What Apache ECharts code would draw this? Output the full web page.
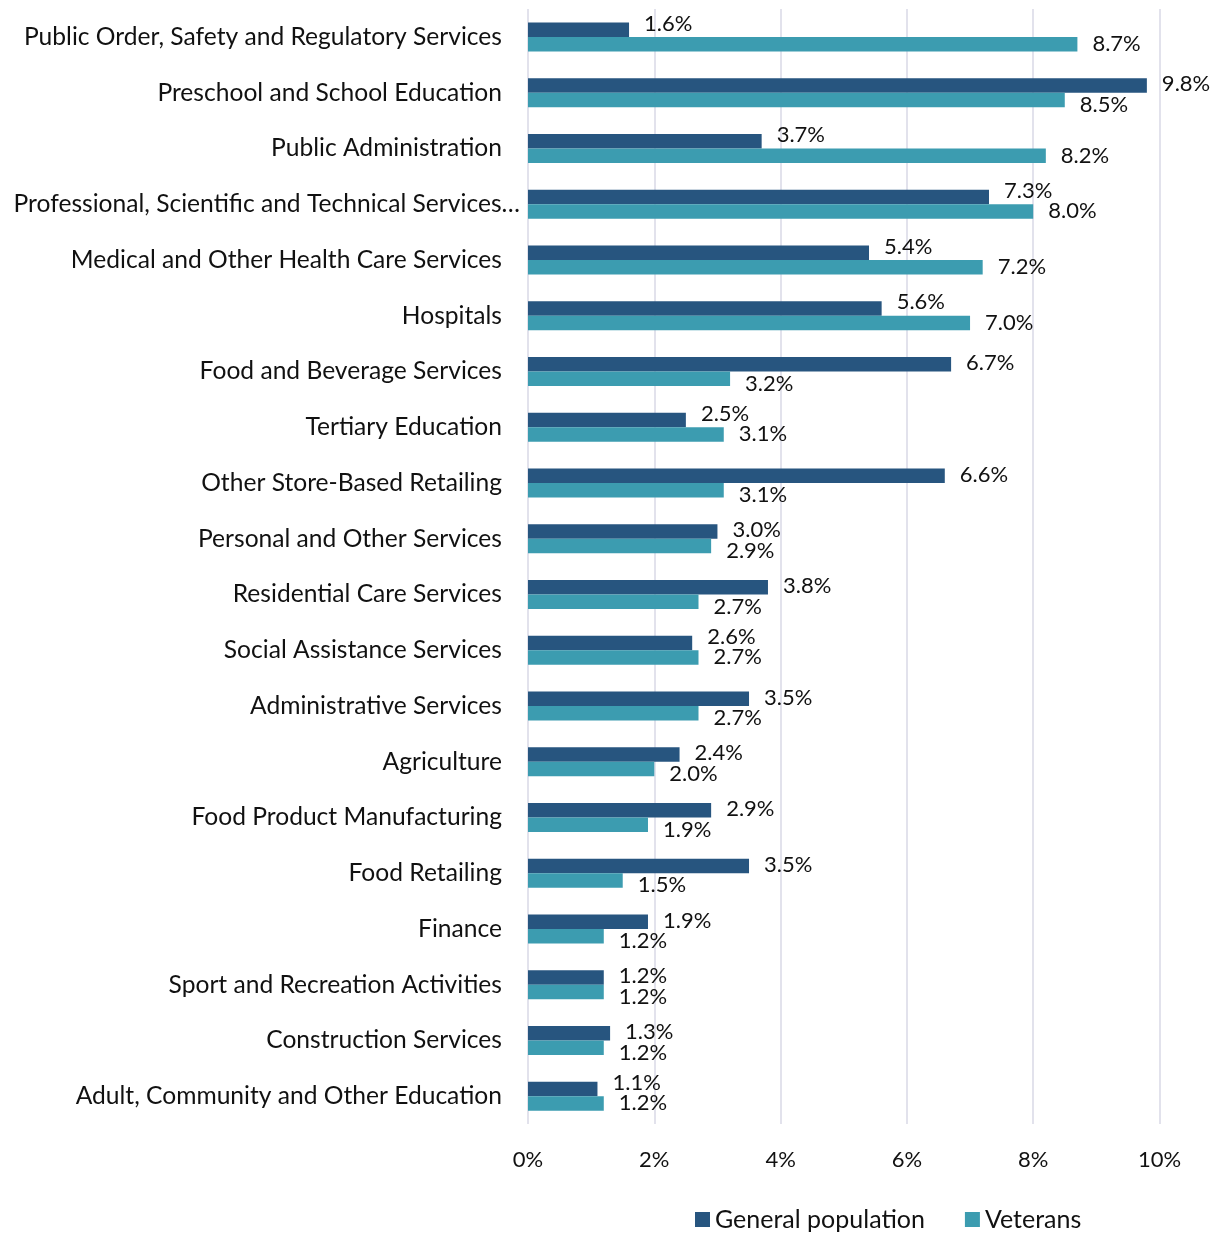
<!DOCTYPE html>
<html>
<head>
<meta charset="utf-8">
<script src="https://cdn.jsdelivr.net/npm/echarts@6/dist/echarts.min.js"></script>
<style>
  html, body { margin: 0; padding: 0; background: #fff; }
  #chart { width: 1222px; height: 1235px; }
</style>
</head>
<body>
<div id="chart"></div>
<script>
// Industry of employment, share of workers (%)
const categories = [
  'Public Order, Safety and Regulatory Services',
  'Preschool and School Education',
  'Public Administration',
  'Professional, Scientific and Technical Services…',
  'Medical and Other Health Care Services',
  'Hospitals',
  'Food and Beverage Services',
  'Tertiary Education',
  'Other Store-Based Retailing',
  'Personal and Other Services',
  'Residential Care Services',
  'Social Assistance Services',
  'Administrative Services',
  'Agriculture',
  'Food Product Manufacturing',
  'Food Retailing',
  'Finance',
  'Sport and Recreation Activities',
  'Construction Services',
  'Adult, Community and Other Education'
];
const generalPopulation = [1.6, 9.8, 3.7, 7.3, 5.4, 5.6, 6.7, 2.5, 6.6, 3.0, 3.8, 2.6, 3.5, 2.4, 2.9, 3.5, 1.9, 1.2, 1.3, 1.1];
const veterans = [8.7, 8.5, 8.2, 8.0, 7.2, 7.0, 3.2, 3.1, 3.1, 2.9, 2.7, 2.7, 2.7, 2.0, 1.9, 1.5, 1.2, 1.2, 1.2, 1.2];
const xTicks = [0, 2, 4, 6, 8, 10];

const FONT = 'Lato';
const TEXT = '#111';

// The shorter bar's label is nudged away from its neighbour so the pair stays readable.
function genItems() {
  return generalPopulation.map((v, i) => ({
    value: v,
    label: { offset: [0, v >= veterans[i] ? -1 : -6] }
  }));
}
function vetItems() {
  return veterans.map((v, i) => ({
    value: v,
    label: { offset: [0, generalPopulation[i] >= v ? 5 : 0] }
  }));
}

const labelStyle = {
  show: true,
  position: 'right',
  distance: 15,
  fontFamily: FONT,
  fontSize: 22,
  color: TEXT,
  formatter: p => p.value.toFixed(1) + '%'
};

const chart = echarts.init(document.getElementById('chart'), null, { renderer: 'canvas' });
chart.setOption({
  animation: false,
  backgroundColor: '#fff',
  textStyle: { fontFamily: FONT },
  grid: {
    left: 528, right: 62.5, top: 9, bottom: 111,
    containLabel: false,
    outerBoundsMode: 'none'
  },
  legend: {
    data: ['General population', 'Veterans'],
    top: 1202,
    left: 690,
    itemWidth: 15,
    itemHeight: 15,
    itemGap: 40,
    icon: 'rect',
    textStyle: { fontFamily: FONT, fontSize: 25, color: TEXT }
  },
  xAxis: {
    type: 'value',
    min: xTicks[0],
    max: xTicks[xTicks.length - 1],
    interval: 2,
    axisLine: { show: false },
    axisTick: { show: false },
    splitLine: { show: true, lineStyle: { color: '#D8D8E6', width: 1.5 } },
    axisLabel: {
      formatter: v => v + '%',
      fontFamily: FONT,
      fontSize: 22,
      color: TEXT,
      margin: 25
    }
  },
  yAxis: {
    type: 'category',
    data: categories,
    inverse: true,
    axisLine: { show: false },
    axisTick: { show: false },
    axisLabel: {
      interval: 0,
      margin: 8,
      formatter: v => v.endsWith('…') ? '{t|' + v + '}' : '{n|' + v + '}',
      rich: {
        n: { fontFamily: FONT, fontSize: 24.6, color: TEXT, padding: [0, 18, 0, 0] },
        t: { fontFamily: FONT, fontSize: 24.6, color: TEXT }
      }
    }
  },
  series: [
    {
      name: 'General population',
      type: 'bar',
      data: genItems(),
      barWidth: 14.5,
      barGap: '0%',
      itemStyle: { color: '#27557F' },
      label: labelStyle
    },
    {
      name: 'Veterans',
      type: 'bar',
      data: vetItems(),
      barWidth: 14.5,
      barGap: '0%',
      itemStyle: { color: '#3C9CB0' },
      label: labelStyle
    }
  ]
});
</script>
</body>
</html>
